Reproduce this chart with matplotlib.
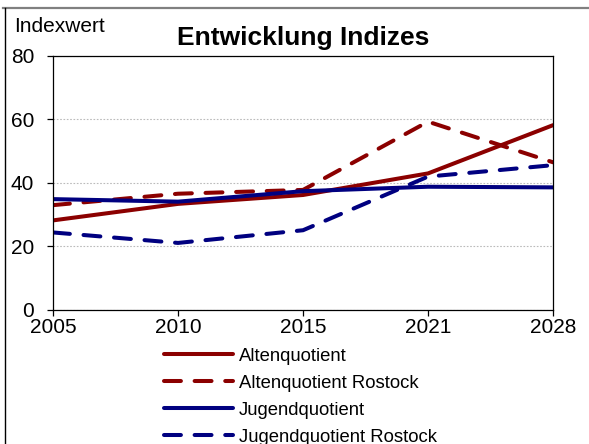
import matplotlib
matplotlib.use("Agg")
import matplotlib.pyplot as plt
from matplotlib.lines import Line2D

plt.rcParams['font.family'] = ['Liberation Sans', 'DejaVu Sans']

years = ["2005", "2010", "2015", "2021", "2028"]
alten = [28.2, 33.4, 36.2, 43.0, 58.2]
alten_rostock = [33.0, 36.6, 37.8, 59.3, 46.5]
jugend = [34.9, 34.1, 37.4, 38.8, 38.6]
jugend_rostock = [24.4, 21.1, 25.1, 42.0, 45.6]

dark_red = "#8B0000"
navy = "#000080"

fig = plt.figure(figsize=(5.89, 4.44), dpi=100)
ax = fig.add_axes([0.09, 0.302, 0.849, 0.572])

x = list(range(len(years)))
lw = 2.9
dash = (0, (4.2, 3.4))
ax.plot(x, alten, color=dark_red, lw=lw, label="Altenquotient", solid_capstyle='round')
ax.plot(x, alten_rostock, color=dark_red, lw=lw, linestyle=dash, dash_capstyle='round', label="Altenquotient Rostock")
ax.plot(x, jugend, color=navy, lw=lw, label="Jugendquotient", solid_capstyle='round')
ax.plot(x, jugend_rostock, color=navy, lw=lw, linestyle=dash, dash_capstyle='round', label="Jugendquotient Rostock")

ax.set_xlim(0, len(years) - 1)
ax.set_ylim(0, 80)
ax.set_yticks([0, 20, 40, 60, 80])
ax.set_xticks(x)
ax.set_xticklabels(years)
ax.tick_params(axis='both', labelsize=15, length=4.5, width=0.9)
ax.tick_params(axis='y', pad=9)
ax.tick_params(axis='x', pad=1)
ax.grid(axis='y', color='#bbbbbb', linestyle=(0, (1.5, 1.5)), linewidth=0.8)
for s in ax.spines.values():
    s.set_linewidth(0.9)

ax.set_title("Entwicklung Indizes", fontsize=19, fontweight='bold', pad=8)
fig.text(0.024, 0.918, "Indexwert", fontsize=15, ha='left', va='bottom')

leg = fig.legend(loc='upper left', bbox_to_anchor=(0.278, 0.217), frameon=False,
                 fontsize=13.3, handlelength=3.75, handletextpad=0.32, labelspacing=0.54,
                 borderaxespad=0, borderpad=0)

fig.add_artist(Line2D([0.005, 1.0], [1 - 8 / 444, 1 - 8 / 444], transform=fig.transFigure,
                      color='#808080', linewidth=1.6))
fig.add_artist(Line2D([4.5 / 589, 4.5 / 589], [0, 1 - 8 / 444], transform=fig.transFigure,
                      color='#000000', linewidth=1.0))

fig.savefig("out.png", dpi=100)
